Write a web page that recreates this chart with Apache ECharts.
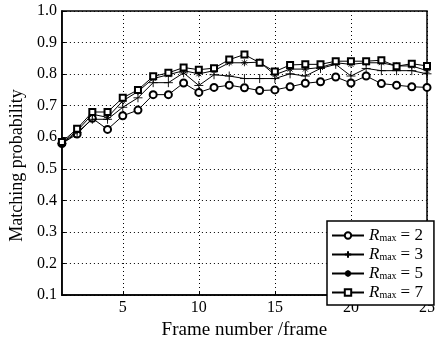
<!DOCTYPE html>
<html>
<head>
<meta charset="utf-8">
<script src="https://cdn.jsdelivr.net/npm/echarts@6/dist/echarts.min.js"></script>
<style>
  html, body { margin: 0; padding: 0; background: #fff; }
  #chart { width: 438px; height: 345px; }
</style>
</head>
<body>
<div id="chart"></div>
<script>
// frame index 1..25
const frames = [1, 2, 3, 4, 5, 6, 7, 8, 9, 10, 11, 12, 13, 14, 15, 16, 17, 18, 19, 20, 21, 22, 23, 24, 25]
const xTicks = [5, 10, 15, 20, 25]
const rmaxValues = [2, 3, 5, 7]

const rmax2 = [0.58, 0.61, 0.66, 0.625, 0.668, 0.686, 0.735, 0.735, 0.772, 0.742, 0.758, 0.765, 0.757,
  0.748, 0.75, 0.76, 0.771, 0.776, 0.791, 0.772, 0.794, 0.77, 0.765, 0.76, 0.758]
const rmax3 = [0.58, 0.615, 0.657, 0.657, 0.695, 0.725, 0.773, 0.773, 0.804, 0.764, 0.798, 0.794, 0.786,
  0.786, 0.786, 0.801, 0.794, 0.818, 0.831, 0.794, 0.818, 0.811, 0.811, 0.811, 0.801]
const rmax5 = [0.582, 0.62, 0.673, 0.663, 0.715, 0.745, 0.786, 0.798, 0.811, 0.801, 0.811, 0.836, 0.836,
  0.838, 0.798, 0.816, 0.816, 0.821, 0.836, 0.831, 0.836, 0.836, 0.826, 0.826, 0.811]
const rmax7 = [0.585, 0.627, 0.68, 0.68, 0.725, 0.75, 0.793, 0.804, 0.821, 0.814, 0.819, 0.846, 0.862,
  0.836, 0.808, 0.829, 0.831, 0.831, 0.841, 0.841, 0.841, 0.844, 0.825, 0.833, 0.826]

const font = 'Liberation Serif'
const plusPath = 'path://M5,0L5,10M0,5L10,5'
const starPath = 'path://M5,0L5,10M0,5L10,5M1.5,1.5L8.5,8.5M8.5,1.5L1.5,8.5'

const seriesDefs = [
  { data: rmax2, symbol: 'emptyCircle', size: 7 },
  { data: rmax3, symbol: plusPath, size: 9 },
  { data: rmax5, symbol: starPath, size: 7 },
  { data: rmax7, symbol: 'emptyRect', size: 6 }
]

const names = rmaxValues.map(v => 'Rmax' + v)

const chart = echarts.init(document.getElementById('chart'))

const option = {
  animation: false,
  backgroundColor: '#fff',
  textStyle: { fontFamily: font, color: '#000' },
  grid: {
    left: 59,
    right: 2,
    top: 11,
    bottom: 38,
    show: true,
    borderColor: '#000',
    borderWidth: 1.5,
    backgroundColor: '#fff'
  },
  legend: {
    orient: 'vertical',
    left: 327,
    top: 221,
    itemWidth: 32,
    itemHeight: 8,
    itemGap: 2,
    padding: [6, 11, 4, 4],
    borderColor: '#000',
    borderWidth: 1.5,
    borderRadius: 0,
    backgroundColor: '#fff',
    data: names,
    formatter: name => '{r|R}{s|max}{e|= ' + name.slice(4) + '}',
    textStyle: {
      fontFamily: font,
      color: '#000',
      rich: {
        r: { fontFamily: font, fontStyle: 'italic', fontSize: 17, lineHeight: 15, color: '#000' },
        s: { fontFamily: font, fontSize: 10, lineHeight: 10, verticalAlign: 'bottom', color: '#000', padding: [0, 4, 0, 0] },
        e: { fontFamily: font, fontSize: 17, lineHeight: 15, color: '#000' }
      }
    }
  },
  xAxis: {
    type: 'value',
    min: 1,
    max: 25,
    name: 'Frame number /frame',
    nameLocation: 'middle',
    nameGap: 20,
    nameTextStyle: { fontFamily: font, fontSize: 19, color: '#000' },
    axisLine: { show: true, lineStyle: { color: '#000', width: 1.5 } },
    axisTick: { show: true, inside: true, length: 4, customValues: xTicks, lineStyle: { color: '#000' } },
    axisLabel: { customValues: xTicks, fontFamily: font, fontSize: 16, color: '#000', margin: 5 },
    splitLine: { show: true, lineStyle: { color: '#000', type: [1, 3], width: 1 } }
  },
  yAxis: {
    type: 'value',
    min: 0.1,
    max: 1.0,
    interval: 0.1,
    name: 'Matching probability',
    nameLocation: 'middle',
    nameGap: 27,
    nameTextStyle: { fontFamily: font, fontSize: 18, color: '#000', padding: [0, 25, 0, 0] },
    axisLine: { show: true, lineStyle: { color: '#000', width: 1.5 } },
    axisTick: { show: true, inside: true, length: 4, lineStyle: { color: '#000' } },
    axisLabel: {
      fontFamily: font, fontSize: 16, color: '#000', margin: 5,
      formatter: v => v.toFixed(1)
    },
    splitLine: { show: true, lineStyle: { color: '#000', type: [1, 3], width: 1 } }
  },
  series: seriesDefs.map((s, i) => ({
    name: names[i],
    type: 'line',
    data: frames.map((f, j) => [f, s.data[j]]),
    symbol: s.symbol,
    symbolSize: s.size,
    showAllSymbol: true,
    lineStyle: { color: '#000', width: 1 },
    itemStyle: { color: '#000', borderColor: '#000', borderWidth: 0.9 },
    z: 3 + i
  }))
}

chart.setOption(option)
</script>
</body>
</html>
